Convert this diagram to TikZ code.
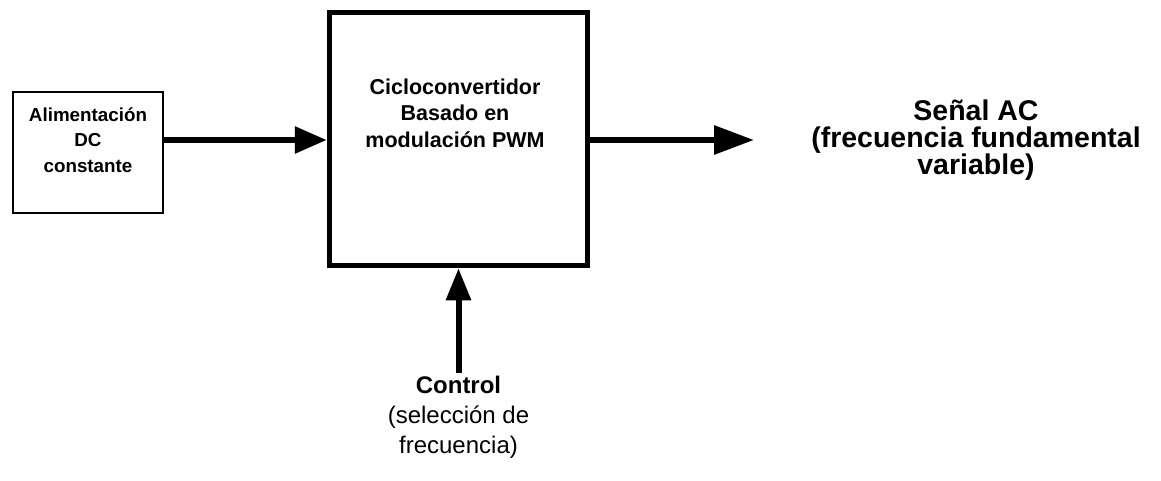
\documentclass[tikz,border=0pt]{standalone}
\usepackage{fontspec}
\setmainfont{Liberation Sans}
\usetikzlibrary{arrows.meta}
\begin{document}
\begin{tikzpicture}[x=1pt,y=-1pt,
  thinbox/.style={draw, line width=2.4pt, inner sep=0pt},
  thickbox/.style={draw, line width=5.5pt, inner sep=0pt},
  flow/.style={line width=6pt, -{Triangle[length=32pt,width=26pt]}},
  lbl/.style={align=center, inner sep=0pt}]
\useasboundingbox (0,0) rectangle (1161,481);
% DC supply block
\node[thinbox, minimum width=150pt, minimum height=121pt] (src) at (88,152.5) {};
\node[lbl, font=\bfseries\fontsize{18.8}{25.5}\selectfont] (srctext) at (88,140)
  {Alimentación\\DC\\constante};
% PWM cycloconverter block
\node[thickbox, minimum width=258pt, minimum height=253pt] (conv) at (458.5,139) {};
\node[lbl, font=\bfseries\fontsize{21.5}{26.5}\selectfont] (convtext) at (455,113)
  {Cicloconvertidor\\Basado en\\modulación PWM};
% output label
\coordinate (out) at (754,140);
\node[lbl, font=\bfseries\fontsize{28.5}{27}\selectfont] (ac) at (976,140)
  {Señal AC\\(frecuencia fundamental\\variable)};
% control input
\coordinate (ctrl) at (458.5,373);
\node[lbl, font=\fontsize{24}{30}\selectfont, anchor=north] (ctrltext) at (458.5,376)
  {\textbf{Control}\\(selección de\\frecuencia)};
% connectors
\draw[flow] (src.east |- srctext) -- (conv.west |- srctext);
\draw[flow, -{Triangle[length=40pt,width=28pt]}] (conv.east |- srctext) -- (out);
\draw[flow, -{Triangle[length=32pt,width=24pt]}] (ctrl) -- (conv.south);
\end{tikzpicture}
\end{document}
